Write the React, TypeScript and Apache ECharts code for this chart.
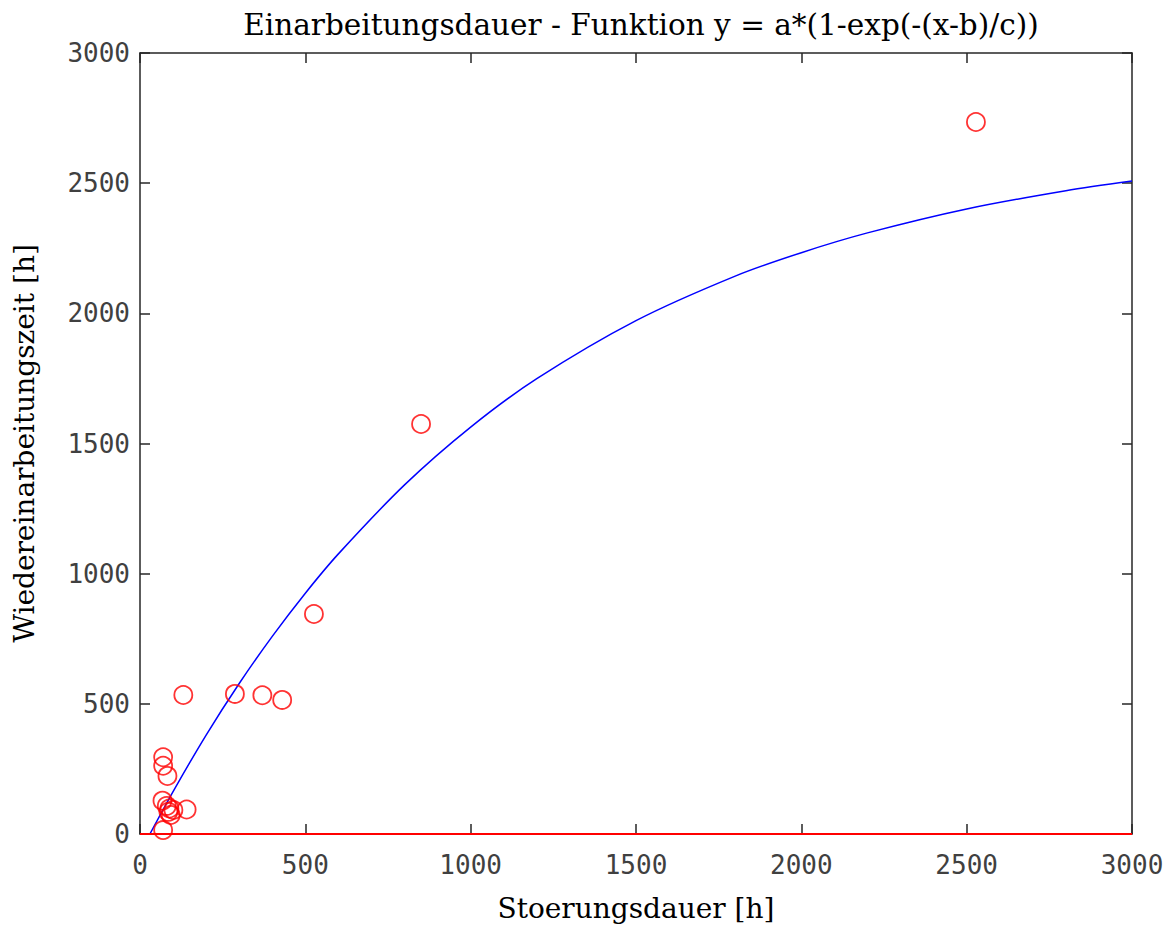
import React, { useEffect, useRef } from "react";
import * as echarts from "echarts";

// Measured points: Stoerungsdauer [h] vs. Wiedereinarbeitungszeit [h]
const pointX = [131, 287, 370, 430, 526, 850, 2528, 70, 70, 83, 68, 81, 89, 86, 93, 101, 141, 70];
const pointY = [534, 538, 533, 515, 845, 1575, 2735, 295, 262, 223, 128, 108, 98, 85, 73, 92, 94, 15];

// Fitted curve y = a*(1-exp(-(x-b)/c)), sampled along x
const curveX = [30, 100, 200, 300, 400, 500, 600, 800, 1000, 1200, 1500, 1800, 2000, 2200, 2500, 2800, 3000];
const curveY = [0, 163, 380, 578, 759, 925, 1076, 1341, 1563, 1749, 1972, 2143, 2233, 2309, 2401, 2471, 2508];

// Zero reference line
const baseX = [0, 3000];
const baseY = [0, 0];

const xTicks = ["0", "500", "1000", "1500", "2000", "2500", "3000"];
const yTicks = ["0", "500", "1000", "1500", "2000", "2500", "3000"];

const AXIS_COLOR = "#262626";
const LABEL_COLOR = "#404040";
const SERIF = "'DejaVu Serif', 'Liberation Serif', serif";
const MONO = "'DejaVu Sans Mono', monospace";

function pairs(xs: number[], ys: number[]) {
  return xs.map((x, i) => [x, ys[i]]);
}

export default function App() {
  const ref = useRef<HTMLDivElement>(null);

  useEffect(() => {
    if (!ref.current) return;
    const chart = echarts.init(ref.current, null, { renderer: "svg" });

    const baseAxis = {
      type: "value" as const,
      min: 0,
      max: 3000,
      interval: 500,
      splitLine: { show: false },
      axisLine: { show: true, onZero: false, lineStyle: { color: AXIS_COLOR, width: 1.5 } },
      axisTick: { show: true, inside: true, length: 10, lineStyle: { color: AXIS_COLOR, width: 1.5 } },
    };

    chart.setOption({
      animation: false,
      backgroundColor: "#ffffff",
      title: {
        text: "Einarbeitungsdauer - Funktion y = a*(1-exp(-(x-b)/c))",
        left: 636,
        top: 5,
        textAlign: "center",
        textStyle: { fontFamily: SERIF, fontSize: 29.5, fontWeight: "normal", color: "#000000" },
      },
      grid: { left: 140, right: 43, top: 53, bottom: 93, containLabel: false },
      xAxis: [
        {
          ...baseAxis,
          position: "bottom",
          name: "Stoerungsdauer [h]",
          nameLocation: "middle",
          nameGap: 60,
          nameTextStyle: { fontFamily: SERIF, fontSize: 28, color: "#000000" },
          axisLabel: {
            show: true,
            margin: 18,
            fontFamily: MONO,
            fontSize: 26,
            color: LABEL_COLOR,
            formatter: (v: number) => xTicks[Math.round(v / 500)] ?? "",
          },
        },
        { ...baseAxis, position: "top", axisLabel: { show: false } },
      ],
      yAxis: [
        {
          ...baseAxis,
          position: "left",
          name: "Wiedereinarbeitungszeit [h]",
          nameLocation: "middle",
          nameGap: 102,
          nameRotate: 90,
          nameTextStyle: { fontFamily: SERIF, fontSize: 28, color: "#000000" },
          axisLabel: {
            show: true,
            margin: 10,
            fontFamily: MONO,
            fontSize: 26,
            color: LABEL_COLOR,
            formatter: (v: number) => yTicks[Math.round(v / 500)] ?? "",
          },
        },
        { ...baseAxis, position: "right", axisLabel: { show: false } },
      ],
      series: [
        {
          type: "line",
          data: pairs(curveX, curveY),
          smooth: 0.3,
          showSymbol: false,
          lineStyle: { color: "#0000ff", width: 1.5 },
          z: 3,
        },
        {
          type: "line",
          data: pairs(baseX, baseY),
          showSymbol: false,
          lineStyle: { color: "#ff0000", width: 2 },
          z: 4,
        },
        {
          type: "scatter",
          data: pairs(pointX, pointY),
          symbol: "circle",
          symbolSize: 18,
          itemStyle: { color: "rgba(0,0,0,0)", borderColor: "#ff0000", borderWidth: 1.8 },
          z: 5,
        },
      ],
    });

    return () => chart.dispose();
  }, []);

  return (
    <div
      ref={ref}
      style={{ position: "absolute", left: 0, top: 0, width: 1175, height: 927 }}
    />
  );
}
